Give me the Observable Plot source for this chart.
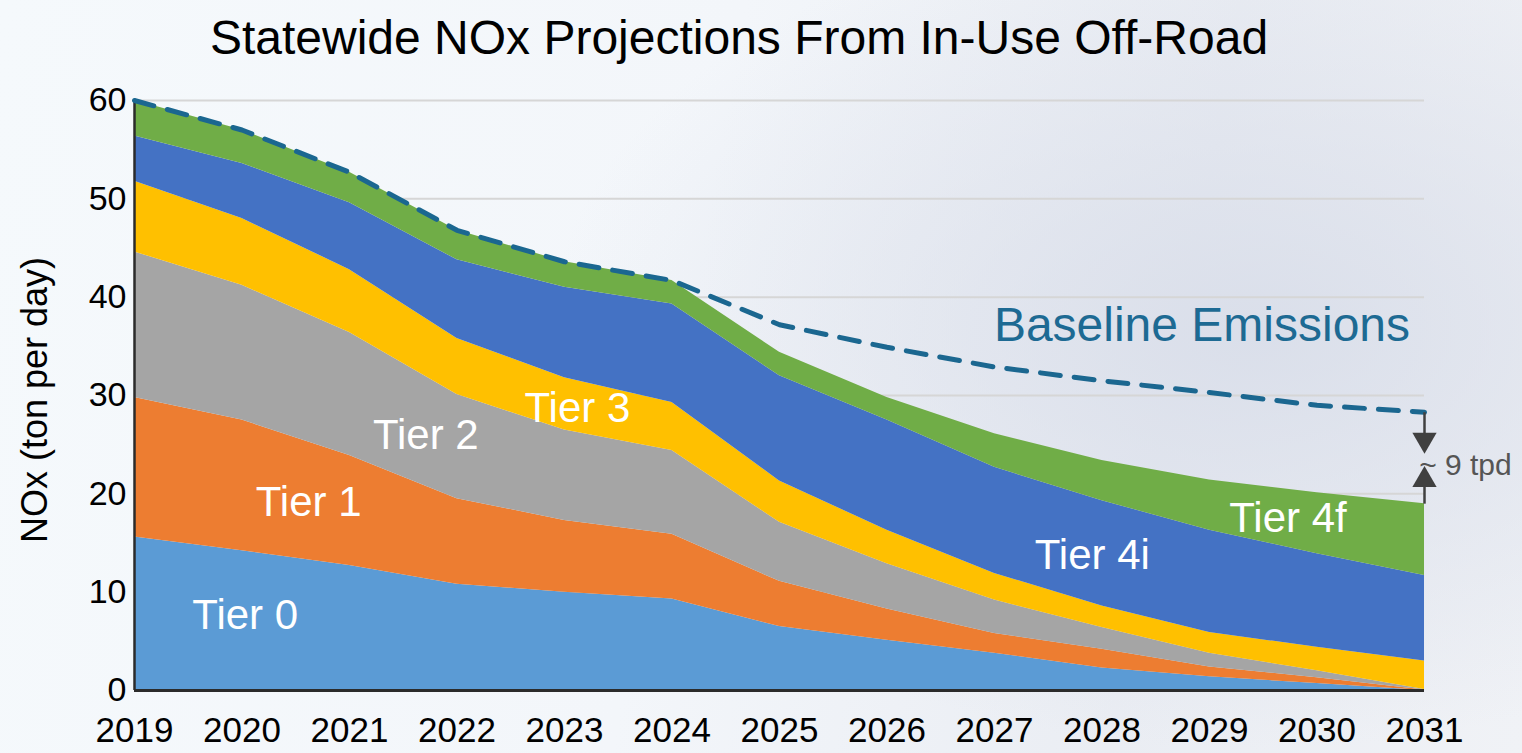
<!DOCTYPE html>
<html>
<head>
<meta charset="utf-8">
<script src="https://cdn.jsdelivr.net/npm/d3@7"></script>
<script src="https://cdn.jsdelivr.net/npm/@observablehq/plot@0.6"></script>
<style>
  html, body { margin: 0; padding: 0; }
  body {
    width: 1522px; height: 753px; overflow: hidden; position: relative;
    font-family: "Liberation Sans", Arial, sans-serif;
    background:
      radial-gradient(ellipse 700px 420px at 1250px 330px, rgba(216,221,233,0.9), rgba(216,221,233,0) 100%),
      linear-gradient(100deg, #f5f9fc 0%, #f3f6fa 45%, #eaedf3 75%, #f0f2f6 100%);
  }
  #title {
    position: absolute; left: 0; top: 0; width: 1478px; height: 75px;
    text-align: center; font-size: 48px; line-height: 76px; color: #000;
  }
  #ylabel {
    position: absolute; left: 35px; top: 400px; width: 0; height: 0;
  }
  #ylabel span {
    position: absolute; left: 0; top: 0; white-space: nowrap;
    font-size: 36px; line-height: 36px; color: #000;
    transform: translate(-50%, -50%) rotate(-90deg);
  }
  #chart { position: absolute; left: 0; top: 75px; }
</style>
</head>
<body>
<div id="title">Statewide NOx Projections From In-Use Off-Road</div>
<div id="chart"></div>
<div id="ylabel"><span>NOx (ton per day)</span></div>
<script>
const years = [2019, 2020, 2021, 2022, 2023, 2024, 2025, 2026, 2027, 2028, 2029, 2030, 2031];
const tiers = ["Tier 0", "Tier 1", "Tier 2", "Tier 3", "Tier 4i", "Tier 4f"];
const tierColors = ["#5b9bd5", "#ed7d31", "#a5a5a5", "#ffc000", "#4472c4", "#70ad47"];

const tier0  = [15.6, 14.2, 12.7, 10.8, 10.0, 9.3, 6.5, 5.1, 3.8, 2.3, 1.4, 0.7, 0.0];
const tier1  = [14.2, 13.3, 11.2, 8.7, 7.3, 6.6, 4.6, 3.2, 2.0, 1.9, 1.0, 0.6, 0.05];
const tier2  = [14.8, 13.7, 12.5, 10.6, 9.2, 8.5, 6.0, 4.6, 3.4, 2.2, 1.4, 0.7, 0.05];
const tier3  = [7.2, 6.8, 6.4, 5.7, 5.3, 4.9, 4.2, 3.4, 2.7, 2.2, 2.1, 2.4, 2.9];
const tier4i = [4.6, 5.6, 6.8, 8.0, 9.2, 10.0, 10.7, 11.2, 10.8, 10.7, 10.4, 9.5, 8.7];
const tier4f = [3.6, 3.4, 3.1, 3.0, 2.6, 2.4, 2.4, 2.3, 3.4, 4.1, 5.1, 6.2, 7.3];
const baseline = [60.0, 57.0, 52.7, 46.8, 43.6, 41.7, 37.2, 34.9, 32.9, 31.5, 30.3, 29.0, 28.3];

const yTicks = [0, 10, 20, 30, 40, 50, 60];

// annotation labels (data coordinates)
const tierLabels = [
  {text: "Tier 0",  year: 2020.03, value: 7.6},
  {text: "Tier 1",  year: 2020.62, value: 19.1},
  {text: "Tier 2",  year: 2021.71, value: 25.9},
  {text: "Tier 3",  year: 2023.12, value: 28.7},
  {text: "Tier 4i", year: 2027.91, value: 13.7},
  {text: "Tier 4f", year: 2029.73, value: 17.5}
];
const baselineLabel = [{text: "Baseline Emissions", year: 2028.93, value: 37.1}];
const gapLabel = [{text: "~ 9 tpd", year: 2030.95, value: 22.9}];

const series = [tier0, tier1, tier2, tier3, tier4i, tier4f];
const stacked = years.flatMap((year, i) => tiers.map((tier, j) => ({year, tier, value: series[j][i]})));
const baseData = years.map((year, i) => ({year, value: baseline[i]}));

const lastYear = years[years.length - 1];
const baseEnd = baseline[baseline.length - 1];
const stackEnd = series.reduce((s, a) => s + a[a.length - 1], 0);
const gapArrows = [
  {year: lastYear, y1: baseEnd, y2: baseEnd - 2.4, tipY: baseEnd - 2.8, rot: 180},
  {year: lastYear, y1: stackEnd, y2: stackEnd + 2.0, tipY: stackEnd + 2.4, rot: 0}
];

const chart = Plot.plot({
  width: 1522,
  height: 678,
  marginLeft: 134,
  marginRight: 98,
  marginTop: 25,
  marginBottom: 63,
  style: {background: "transparent", fontFamily: "'Liberation Sans', Arial, sans-serif", color: "#000"},
  x: {domain: [years[0], lastYear]},
  y: {domain: [0, 60]},
  color: {domain: tiers, range: tierColors},
  marks: [
    Plot.gridY(yTicks, {stroke: "#d6d6d6", strokeOpacity: 1, strokeWidth: 2}),
    Plot.areaY(stacked, {x: "year", y: "value", fill: "tier", order: tiers}),
    Plot.ruleX([years[0]], {stroke: "#2b2b2b", strokeWidth: 2.5}),
    Plot.ruleY([0], {stroke: "#2b2b2b", strokeWidth: 3}),
    Plot.lineY(baseData, {x: "year", y: "value", stroke: "#1b6790", strokeWidth: 5, strokeDasharray: "20,14", strokeLinecap: "round"}),
    Plot.axisY(yTicks, {tickSize: 0, tickPadding: 8, fontSize: 34, label: null}),
    Plot.axisX(years, {tickSize: 0, tickPadding: 27, fontSize: 35, tickFormat: d => String(d), label: null}),
    Plot.text(tierLabels, {x: "year", y: "value", text: "text", fill: "white", fontSize: 42}),
    Plot.text(baselineLabel, {x: "year", y: "value", text: "text", fill: "#1d6a93", fontSize: 48}),
    Plot.text(gapLabel, {x: "year", y: "value", text: "text", fill: "#555", fontSize: 30, textAnchor: "start"}),
    Plot.link(gapArrows, {x1: "year", x2: "year", y1: "y1", y2: "y2", stroke: "#404040", strokeWidth: 2.5}),
    Plot.dot(gapArrows, {x: "year", y: "tipY", symbol: "triangle", rotate: "rot", r: 9, fill: "#404040", stroke: "none"})
  ]
});
document.getElementById("chart").appendChild(chart);
</script>
</body>
</html>
